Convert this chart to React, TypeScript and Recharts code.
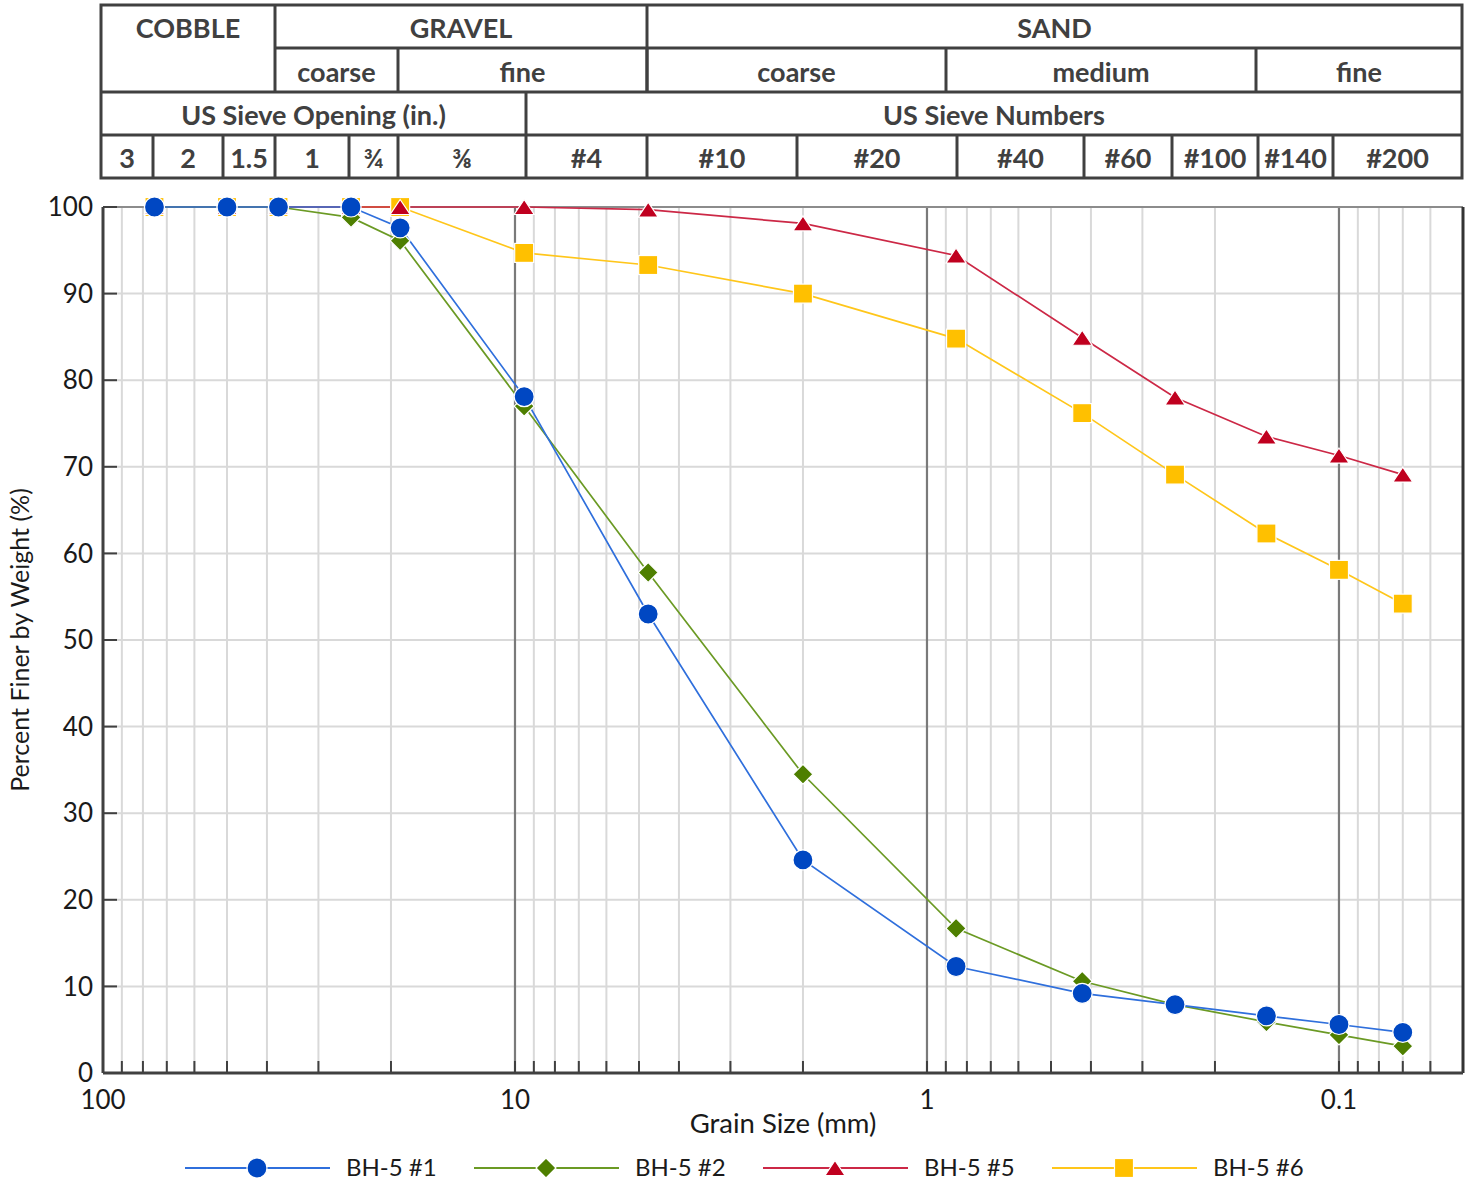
import React from 'react';
import { LineChart, Line, XAxis, YAxis, CartesianGrid, ReferenceLine } from 'recharts';

// ---------- DATA ----------
const sieveSizesMm = [75, 50, 37.5, 25, 19, 9.5, 4.75, 2.0, 0.85, 0.42, 0.25, 0.15, 0.1, 0.07];
const bh5No1 = [100, 100, 100, 100, 97.6, 78.1, 53.0, 24.6, 12.3, 9.2, 7.9, 6.6, 5.6, 4.7];
const bh5No2 = [100, 100, 100, 98.8, 96.1, 77.0, 57.8, 34.5, 16.7, 10.6, 7.9, 5.9, 4.4, 3.1];
const bh5No5 = [100, 100, 100, 100, 100, 100, 99.7, 98.1, 94.4, 84.9, 78.0, 73.5, 71.3, 69.1];
const bh5No6 = [100, 100, 100, 100, 100, 94.7, 93.3, 90.0, 84.8, 76.2, 69.1, 62.3, 58.1, 54.2];
const seriesNames = ['BH-5 #1', 'BH-5 #2', 'BH-5 #5', 'BH-5 #6'];

const xMajorTicks = [100, 10, 1, 0.1];
const xMajorLabels = ['100', '10', '1', '0.1'];
const xMinorTicks = [
  90, 80, 70, 60, 50, 40, 30, 20,
  9, 8, 7, 6, 5, 4, 3, 2,
  0.9, 0.8, 0.7, 0.6, 0.5, 0.4, 0.3, 0.2,
  0.09, 0.08, 0.07, 0.06,
];
const xDomain = [0.05, 100];
const yTicks = [0, 10, 20, 30, 40, 50, 60, 70, 80, 90, 100];

// header table labels
const soilGroups = ['COBBLE', 'GRAVEL', 'SAND'];
const soilSubGroups = ['coarse', 'fine', 'coarse', 'medium', 'fine'];
const sieveHeaders = ['US Sieve Opening (in.)', 'US Sieve Numbers'];
const sieveLabels = ['3', '2', '1.5', '1', '¾', '⅜', '#4', '#10', '#20', '#40', '#60', '#100', '#140', '#200'];

const chartData = sieveSizesMm.map((s, i) => ({
  size: s,
  s1: bh5No1[i],
  s2: bh5No2[i],
  s5: bh5No5[i],
  s6: bh5No6[i],
}));

// ---------- STYLE / LAYOUT ----------
const FONT = 'Lato, "Open Sans", sans-serif';
const TEXT = '#1a1a1a';
const AXIS = '#404040';
const COLORS = {
  s1: { line: '#2f6fdc', marker: '#0047c2' },
  s2: { line: '#6b9a24', marker: '#4e7f00' },
  s5: { line: '#cc2846', marker: '#c0001f' },
  s6: { line: '#ffc61a', marker: '#ffc000' },
};

// table geometry
const T = {
  left: 101, right: 1462,
  rowsY: [5, 48, 92, 135, 178],
  groupX: [101, 275, 647, 1462],
  subX: [275, 398, 647, 946, 1256, 1462],
  headX: [101, 526, 1462],
  sieveX: [101, 153, 223, 275, 349, 398, 526, 647, 797, 957, 1084, 1172, 1258, 1333, 1462],
};

const Circle = (p: any) => {
  const { cx, cy, fill } = p;
  if (cx == null || cy == null) return null;
  return <circle cx={cx} cy={cy} r={10} fill={fill} stroke="#ffffff" strokeWidth={1.2} />;
};
const Diamond = (p: any) => {
  const { cx, cy, fill } = p;
  if (cx == null || cy == null) return null;
  const h = 10;
  return <path d={`M${cx},${cy - h} L${cx + h},${cy} L${cx},${cy + h} L${cx - h},${cy} Z`} fill={fill} stroke="#ffffff" strokeWidth={1.2} />;
};
const Triangle = (p: any) => {
  const { cx, cy, fill } = p;
  if (cx == null || cy == null) return null;
  const w = 10, h = 15;
  return <path d={`M${cx},${cy - h / 2} L${cx + w},${cy + h / 2} L${cx - w},${cy + h / 2} Z`} fill={fill} stroke="#ffffff" strokeWidth={1.2} />;
};
const Square = (p: any) => {
  const { cx, cy, fill } = p;
  if (cx == null || cy == null) return null;
  const s = 9.5;
  return <rect x={cx - s} y={cy - s} width={2 * s} height={2 * s} fill={fill} stroke="#ffffff" strokeWidth={1.2} />;
};

const XTick = (props: any) => {
  const { x, y, payload } = props;
  const v = payload.value;
  const idx = xMajorTicks.indexOf(v);
  return (
    <g>
      <line x1={x} x2={x} y1={y} y2={y - 12} stroke={AXIS} strokeWidth={2} />
      {idx >= 0 && (
        <text x={x} y={y + 36} textAnchor="middle" fill={TEXT} fontSize={26} fontFamily={FONT}>
          {xMajorLabels[idx]}
        </text>
      )}
    </g>
  );
};

const YTick = (props: any) => {
  const { x, y, payload } = props;
  return (
    <g>
      <line x1={x} x2={x + 14} y1={y} y2={y} stroke={AXIS} strokeWidth={2} />
      <text x={x - 10} y={y} dy="0.35em" textAnchor="end" fill={TEXT} fontSize={26} fontFamily={FONT}>
        {payload.value}
      </text>
    </g>
  );
};

const XLabel = (props: any) => {
  const vb = props.viewBox || {};
  return (
    <text x={vb.x + vb.width / 2} y={vb.y + 50} dy="0.35em" textAnchor="middle" fill={TEXT} fontSize={27.5} fontFamily={FONT}>
      Grain Size (mm)
    </text>
  );
};
const YLabel = (props: any) => {
  const vb = props.viewBox || {};
  const cx = vb.x + 20;
  const cy = vb.y + vb.height / 2;
  return (
    <text x={cx} y={cy} dy="0.35em" textAnchor="middle" fill={TEXT} fontSize={25} fontFamily={FONT} transform={`rotate(-90 ${cx} ${cy})`}>
      Percent Finer by Weight (%)
    </text>
  );
};

const HeaderTable = () => {
  const [r0, r1, r2, r3, r4] = T.rowsY;
  const mid = (a: number, b: number) => (a + b) / 2;
  const stroke = { stroke: '#404040', strokeWidth: 3 };
  const txt = { fill: '#404040', fontSize: 27, fontWeight: 700, fontFamily: FONT, textAnchor: 'middle' as const, dominantBaseline: 'central' as const };
  return (
    <svg width={1470} height={185} style={{ position: 'absolute', left: 0, top: 0 }}>
      <rect x={T.left} y={r0} width={T.right - T.left} height={r4 - r0} fill="none" {...stroke} />
      <line x1={T.groupX[1]} x2={T.right} y1={r1} y2={r1} {...stroke} />
      <line x1={T.left} x2={T.right} y1={r2} y2={r2} {...stroke} />
      <line x1={T.left} x2={T.right} y1={r3} y2={r3} {...stroke} />
      {T.groupX.slice(1, -1).map((x) => <line key={'g' + x} x1={x} x2={x} y1={r0} y2={r2} {...stroke} />)}
      {T.subX.slice(1, -1).map((x) => <line key={'s' + x} x1={x} x2={x} y1={r1} y2={r2} {...stroke} />)}
      {T.headX.slice(1, -1).map((x) => <line key={'h' + x} x1={x} x2={x} y1={r2} y2={r3} {...stroke} />)}
      {T.sieveX.slice(1, -1).map((x) => <line key={'v' + x} x1={x} x2={x} y1={r3} y2={r4} {...stroke} />)}
      {soilGroups.map((g, i) => (
        <text key={g} x={mid(T.groupX[i], T.groupX[i + 1])} y={mid(r0, r1) + 1} {...txt}>{g}</text>
      ))}
      {soilSubGroups.map((g, i) => (
        <text key={g + i} x={mid(T.subX[i], T.subX[i + 1])} y={mid(r1, r2) + 1} {...txt}>{g}</text>
      ))}
      {sieveHeaders.map((g, i) => (
        <text key={g} x={mid(T.headX[i], T.headX[i + 1])} y={mid(r2, r3) + 1} {...txt}>{g}</text>
      ))}
      {sieveLabels.map((g, i) => (
        <text key={g + i} x={mid(T.sieveX[i], T.sieveX[i + 1])} y={mid(r3, r4) + 1} {...txt}>{g}</text>
      ))}
    </svg>
  );
};

const legendItems = [
  { name: seriesNames[0], c: COLORS.s1, shape: Circle },
  { name: seriesNames[1], c: COLORS.s2, shape: Diamond },
  { name: seriesNames[2], c: COLORS.s5, shape: Triangle },
  { name: seriesNames[3], c: COLORS.s6, shape: Square },
];

const ChartLegend = () => (
  <svg width={1470} height={40} style={{ position: 'absolute', left: 0, top: 1148 }}>
    {legendItems.map((it, i) => {
      const x0 = 185 + i * 289;
      const Shape = it.shape;
      return (
        <g key={it.name}>
          <line x1={x0} x2={x0 + 145} y1={20} y2={20} stroke={it.c.line} strokeWidth={2} />
          <Shape cx={x0 + 72} cy={20} fill={it.c.marker} />
          <text x={x0 + 161} y={20} dy="0.35em" fill={TEXT} fontSize={24} fontFamily={FONT}>{it.name}</text>
        </g>
      );
    })}
  </svg>
);

export default function App() {
  const allXTicks = [...xMajorTicks, ...xMinorTicks].sort((a, b) => b - a);
  return (
    <div style={{ position: 'absolute', left: 0, top: 0, width: 1470, height: 1185, background: '#ffffff', fontFamily: FONT }}>
      <HeaderTable />
      <div style={{ position: 'absolute', left: 0, top: 0 }}>
        <LineChart width={1470} height={1185} data={chartData} margin={{ top: 207, right: 7, bottom: 0, left: 0 }}>
          <CartesianGrid stroke="#d9d9d9" strokeWidth={2} />
          <XAxis
            dataKey="size"
            type="number"
            scale="log"
            domain={xDomain}
            reversed
            allowDataOverflow
            ticks={allXTicks}
            interval={0}
            tickSize={0}
            tickMargin={0}
            height={112}
            axisLine={{ stroke: AXIS, strokeWidth: 3 }}
            tickLine={false}
            tick={<XTick />}
            label={<XLabel />}
          />
          <YAxis
            type="number"
            domain={[0, 100]}
            ticks={yTicks}
            interval={0}
            width={103}
            tickSize={0}
            tickMargin={0}
            axisLine={{ stroke: AXIS, strokeWidth: 3 }}
            tickLine={false}
            tick={<YTick />}
            label={<YLabel />}
          />
          {xMajorTicks.slice(1).map((v) => (
            <ReferenceLine key={'mj' + v} x={v} stroke="#7a7a7a" strokeWidth={2.2} />
          ))}
          <ReferenceLine y={100} stroke="#8c8c8c" strokeWidth={2} />
          <ReferenceLine x={xDomain[0]} stroke="#333333" strokeWidth={3} />
          <Line dataKey="s6" name={seriesNames[3]} stroke={COLORS.s6.line} strokeWidth={1.7} isAnimationActive={false}
            dot={(p: any) => <Square key={'d6' + p.index} cx={p.cx} cy={p.cy} fill={COLORS.s6.marker} />} activeDot={false} />
          <Line dataKey="s5" name={seriesNames[2]} stroke={COLORS.s5.line} strokeWidth={1.7} isAnimationActive={false}
            dot={(p: any) => <Triangle key={'d5' + p.index} cx={p.cx} cy={p.cy} fill={COLORS.s5.marker} />} activeDot={false} />
          <Line dataKey="s2" name={seriesNames[1]} stroke={COLORS.s2.line} strokeWidth={1.7} isAnimationActive={false}
            dot={(p: any) => <Diamond key={'d2' + p.index} cx={p.cx} cy={p.cy} fill={COLORS.s2.marker} />} activeDot={false} />
          <Line dataKey="s1" name={seriesNames[0]} stroke={COLORS.s1.line} strokeWidth={1.7} isAnimationActive={false}
            dot={(p: any) => <Circle key={'d1' + p.index} cx={p.cx} cy={p.cy} fill={COLORS.s1.marker} />} activeDot={false} />
        </LineChart>
      </div>
      <ChartLegend />
    </div>
  );
}
